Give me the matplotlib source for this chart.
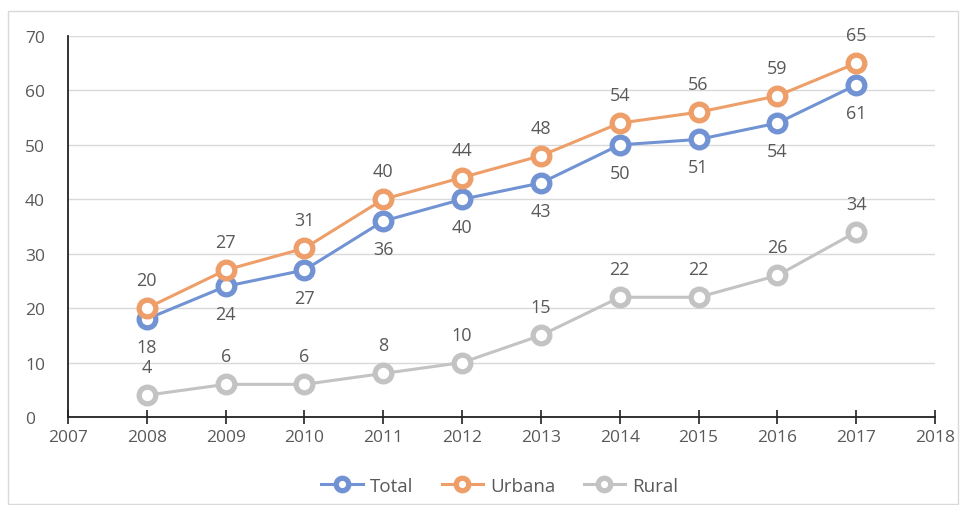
import matplotlib
matplotlib.use("Agg")
import matplotlib.pyplot as plt
from matplotlib.patches import Rectangle

plt.rcParams['font.family'] = ['Open Sans', 'DejaVu Sans']

years = [2008, 2009, 2010, 2011, 2012, 2013, 2014, 2015, 2016, 2017]
total = [18, 24, 27, 36, 40, 43, 50, 51, 54, 61]
urbana = [20, 27, 31, 40, 44, 48, 54, 56, 59, 65]
rural = [4, 6, 6, 8, 10, 15, 22, 22, 26, 34]
x_ticks = list(range(2007, 2019))
y_ticks = list(range(0, 71, 10))

c_total = '#7293D3'
c_urb = '#EE9E68'
c_rur = '#C3C3C3'
txt = '#595959'

fig = plt.figure(figsize=(9.66, 5.06), dpi=100)
fig.patches.append(Rectangle((8/966, 1/506), 950/966, 493/506, transform=fig.transFigure,
                             fill=False, edgecolor='#D9D9D9', linewidth=1))
ax = fig.add_axes([68/966, 1-418/506, (935-68)/966, (418-37)/506])

series = [(total, c_total, 'Total', -1), (urbana, c_urb, 'Urbana', 1), (rural, c_rur, 'Rural', 1)]
for vals, col, name, pos in series:
    ax.plot(years, vals, color=col, lw=2.2, marker='o', ms=12, mfc='white', mec=col, mew=3.8,
            label=name, zorder=3)
    for xv, yv in zip(years, vals):
        ax.annotate(str(yv), (xv, yv), xytext=(0, 28*pos), textcoords='offset pixels',
                    ha='center', va='center', fontsize=13, color=txt)

ax.set_xlim(2007, 2018)
ax.set_ylim(0, 70)
ax.set_xticks(x_ticks)
ax.set_yticks(y_ticks)
ax.grid(axis='y', color='#D9D9D9', lw=1)
ax.set_axisbelow(True)
for s in ['top', 'right']:
    ax.spines[s].set_visible(False)
ax.spines['left'].set_color('#222222')
ax.spines['bottom'].set_color('#222222')
ax.spines['left'].set_linewidth(1.3)
ax.spines['bottom'].set_linewidth(1.3)
ax.tick_params(axis='x', direction='inout', length=10, width=1.2, colors='#222222', labelcolor=txt,
               labelsize=12.5, pad=4)
ax.tick_params(axis='y', length=0, labelcolor=txt, labelsize=12.5, pad=31)
for lab in ax.get_yticklabels():
    lab.set_horizontalalignment('left')

leg = fig.legend(loc='center', bbox_to_anchor=(500/966, 1-487/506), ncol=3, frameon=False,
                 fontsize=13.5, handlelength=2.2, columnspacing=1.5, handletextpad=0.4, markerscale=0.75)
for t in leg.get_texts():
    t.set_color(txt)

fig.savefig('out.png', dpi=100)
